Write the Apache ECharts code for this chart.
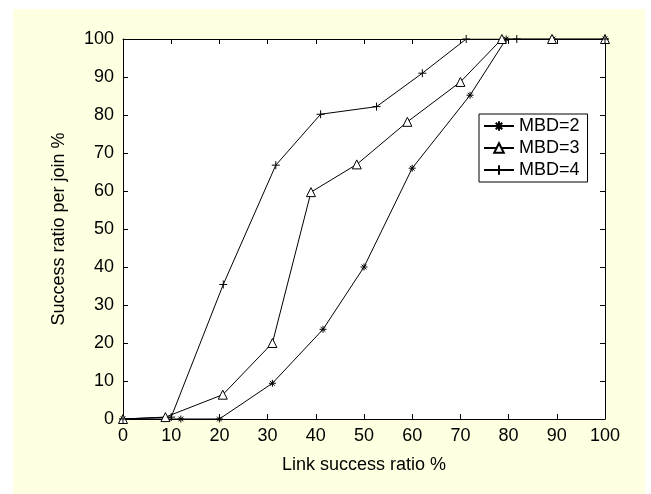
<!DOCTYPE html>
<html>
<head>
<meta charset="utf-8">
<script src="https://cdn.jsdelivr.net/npm/echarts@6/dist/echarts.min.js"></script>
<style>
  html, body { margin: 0; padding: 0; background: #ffffff; }
  #frame { position: absolute; left: 13px; top: 9px; width: 632px; height: 485px; background: #ffffe1; }
  #chart { position: absolute; left: 0; top: 0; width: 651px; height: 494px; }
</style>
</head>
<body>
<div id="frame"></div>
<div id="chart"></div>
<script>
// Join success ratio vs. link success ratio, for three MBD values
const mbd2X = [0, 12, 20, 31, 41.5, 50, 60, 72, 79.5, 89.2, 100];
const mbd2Y = [0, 0, 0, 9.4, 23.6, 40, 66, 85.2, 100, 100, 100];

const mbd3X = [0, 8.8, 20.7, 31, 39, 48.5, 59, 70, 78.6, 89, 100];
const mbd3Y = [0, 0.5, 6.4, 20, 59.7, 67, 78.2, 88.7, 100, 100, 100];

const mbd4X = [0, 10, 20.8, 31.7, 41, 52.6, 62.1, 71.2, 81.7, 100];
const mbd4Y = [0, 0.5, 35.4, 66.8, 80.2, 82.2, 91, 100, 100, 100];

const seriesNames = ['MBD=2', 'MBD=3', 'MBD=4'];
const xTicks = [0, 10, 20, 30, 40, 50, 60, 70, 80, 90, 100];
const yTicks = [0, 10, 20, 30, 40, 50, 60, 70, 80, 90, 100];

const FONT = 'Liberation Sans, Arial, sans-serif';

const pairs = (xs, ys) => xs.map((x, i) => [x, ys[i]]);

const starPath = 'path://M5,0L5,10M0,5L10,5M1.6,1.6L8.4,8.4M8.4,1.6L1.6,8.4';
const plusPath = 'path://M5,0L5,10M0,5L10,5';

function lineSeries(name, data, symbol, size) {
  return {
    name: name,
    type: 'line',
    data: data,
    xAxisIndex: 0,
    yAxisIndex: 0,
    symbol: symbol,
    symbolSize: size,
    showAllSymbol: true,
    lineStyle: { color: '#000', width: 1 },
    itemStyle: { color: symbol === 'triangle' ? '#fff' : '#000', borderColor: '#000', borderWidth: 1 },
    emphasis: { disabled: true },
    animation: false,
    z: 3
  };
}

const inwardTicks = () => ({
  show: true,
  inside: true,
  length: 5,
  lineStyle: { color: '#000', width: 1 }
});

const chart = echarts.init(document.getElementById('chart'), null, { renderer: 'canvas' });
chart.setOption({
  backgroundColor: 'transparent',
  animation: false,
  textStyle: { fontFamily: FONT },
  grid: {
    left: 123, top: 39, right: 46, bottom: 75,
    show: true, backgroundColor: '#ffffff', borderWidth: 0
  },
  legend: {
    left: 479, top: 114,
    orient: 'vertical',
    data: seriesNames,
    backgroundColor: '#ffffff',
    borderColor: '#000', borderWidth: 1,
    padding: [3, 8, 3, 4],
    itemWidth: 30, itemHeight: 12, itemGap: 4,
    textStyle: { fontFamily: FONT, fontSize: 18, color: '#000', lineHeight: 18 },
    selectedMode: false
  },
  xAxis: [{
    type: 'value', min: xTicks[0], max: xTicks[xTicks.length - 1], interval: 10,
    position: 'bottom',
    name: 'Link success ratio %', nameLocation: 'middle', nameGap: 37,
    nameTextStyle: { fontFamily: FONT, fontSize: 18, color: '#000' },
    axisLine: { show: true, onZero: false, lineStyle: { color: '#000', width: 1 } },
    axisTick: inwardTicks(),
    axisLabel: { fontFamily: FONT, fontSize: 18, color: '#000', margin: 8 },
    splitLine: { show: false }
  }, {
    type: 'value', min: xTicks[0], max: xTicks[xTicks.length - 1], interval: 10,
    position: 'top',
    axisLine: { show: true, onZero: false, lineStyle: { color: '#000', width: 1 } },
    axisTick: inwardTicks(),
    axisLabel: { show: false },
    splitLine: { show: false }
  }],
  yAxis: [{
    type: 'value', min: yTicks[0], max: yTicks[yTicks.length - 1], interval: 10,
    position: 'left',
    name: 'Success ratio per join %', nameLocation: 'middle', nameGap: 55,
    nameTextStyle: { fontFamily: FONT, fontSize: 18, color: '#000' },
    axisLine: { show: true, onZero: false, lineStyle: { color: '#000', width: 1 } },
    axisTick: inwardTicks(),
    axisLabel: { fontFamily: FONT, fontSize: 18, color: '#000', margin: 9 },
    splitLine: { show: false }
  }, {
    type: 'value', min: yTicks[0], max: yTicks[yTicks.length - 1], interval: 10,
    position: 'right',
    axisLine: { show: true, onZero: false, lineStyle: { color: '#000', width: 1 } },
    axisTick: inwardTicks(),
    axisLabel: { show: false },
    splitLine: { show: false }
  }],
  series: [
    lineSeries(seriesNames[0], pairs(mbd2X, mbd2Y), starPath, 7),
    lineSeries(seriesNames[1], pairs(mbd3X, mbd3Y), 'triangle', 9),
    lineSeries(seriesNames[2], pairs(mbd4X, mbd4Y), plusPath, 8)
  ]
});
</script>
</body>
</html>
